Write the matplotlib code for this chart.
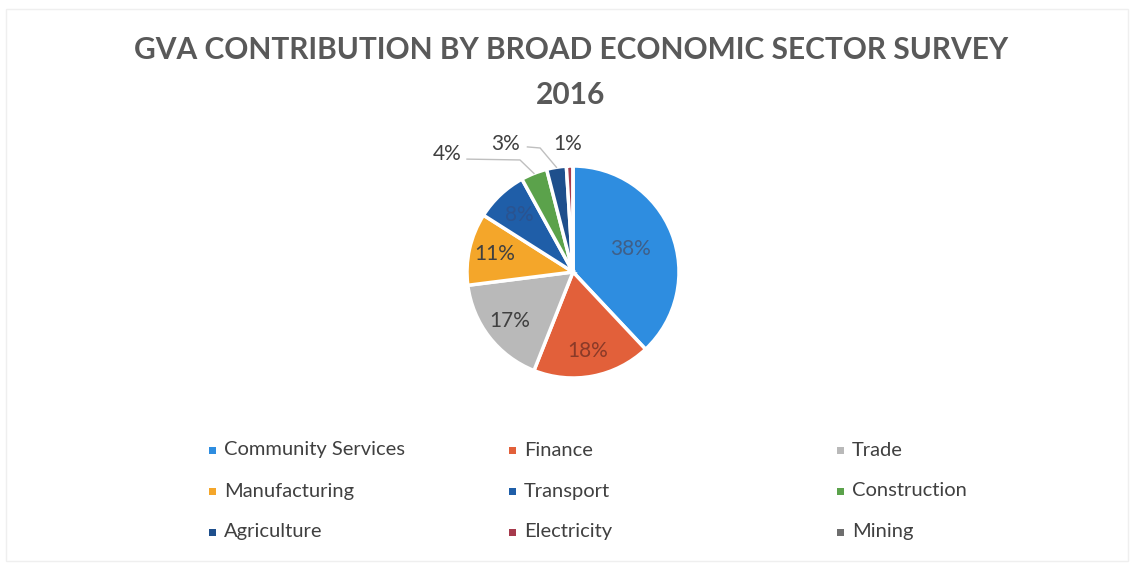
import matplotlib
matplotlib.use("Agg")
import numpy as np
import matplotlib.pyplot as plt
from matplotlib.patches import Rectangle

plt.rcParams['font.family'] = ['Lato', 'DejaVu Sans']

sectors = ["Community Services", "Finance", "Trade", "Manufacturing", "Transport",
           "Construction", "Agriculture", "Electricity", "Mining"]
shares = [38, 18, 17, 11, 8, 4, 3, 1, 0]
colors = ["#2E8DE0", "#E2603A", "#B9B9B9", "#F4A62A", "#1F5EA8",
          "#5BA24B", "#1E4F8C", "#A63A4C", "#6E6E6E"]

W, H = 1131, 563
fig = plt.figure(figsize=(W / 100, H / 100), dpi=100)
fig.patch.set_facecolor("white")

# faint chart-area border
fig.add_artist(Rectangle((6 / W, 2 / H), 1122 / W, 552 / H, transform=fig.transFigure,
                         fill=False, edgecolor="#EFEFEF", linewidth=1))

fig.text(571 / W, 1 - 50 / H, "GVA CONTRIBUTION BY BROAD ECONOMIC SECTOR SURVEY",
         ha="center", va="center", fontsize=21.5, fontweight="bold", color="#595959")
fig.text(571 / W, 1 - 95 / H, "2016",
         ha="center", va="center", fontsize=21.5, fontweight="bold", color="#595959")

cx, cy, R = 573, 272, 106
ax = fig.add_axes([(cx - R) / W, (H - cy - R) / H, 2 * R / W, 2 * R / H])
wedges, _ = ax.pie(shares, colors=colors, startangle=90, counterclock=False,
                   radius=1, wedgeprops=dict(edgecolor="white", linewidth=2.5))
ax.set_xlim(-1, 1)
ax.set_ylim(-1, 1)
ax.set_aspect("equal")
ax.axis("off")

# labels inside the larger slices
inner_r = [0.58, 0.76, 0.76, 0.76, 0.74]
inner_col = ["#3F5F88", "#8A3A28", "#404040", "#404040", "#2A5390"]
for i in range(5):
    w = wedges[i]
    a = np.deg2rad((w.theta1 + w.theta2) / 2)
    ax.text(inner_r[i] * np.cos(a), inner_r[i] * np.sin(a), f"{shares[i]}%",
            ha="center", va="center", fontsize=15, color=inner_col[i])

# small slices get callouts
outer = {5: ((-1.19, 1.11), (-1.0, 1.065), (-0.5, 1.057)),
         6: ((-0.64, 1.21), (-0.43, 1.18), (-0.31, 1.17)),
         7: ((-0.05, 1.21), None, None)}
for i, (lab, start, elbow) in outer.items():
    w = wedges[i]
    a = np.deg2rad((w.theta1 + w.theta2) / 2)
    if start is not None:
        ex, ey = np.cos(a), np.sin(a)
        ax.plot([start[0], elbow[0], ex], [start[1], elbow[1], ey],
                color="#BFBFBF", linewidth=1, clip_on=False)
    ax.text(lab[0], lab[1], f"{shares[i]}%", ha="center", va="center",
            fontsize=15, color="#404040", clip_on=False)

# legend laid out in three columns
col_x = [212, 512, 840]
row_y = [450, 491, 532]
for i, name in enumerate(sectors):
    x = col_x[i % 3]
    y = row_y[i // 3]
    fig.add_artist(Rectangle(((x - 3.5) / W, (H - y - 3.5) / H), 7 / W, 7 / H,
                             transform=fig.transFigure, facecolor=colors[i],
                             edgecolor="none"))
    fig.text((x + 12) / W, 1 - y / H, name, ha="left", va="center",
             fontsize=14.5, color="#404040")

fig.savefig("out.png", dpi=100, facecolor="white")
